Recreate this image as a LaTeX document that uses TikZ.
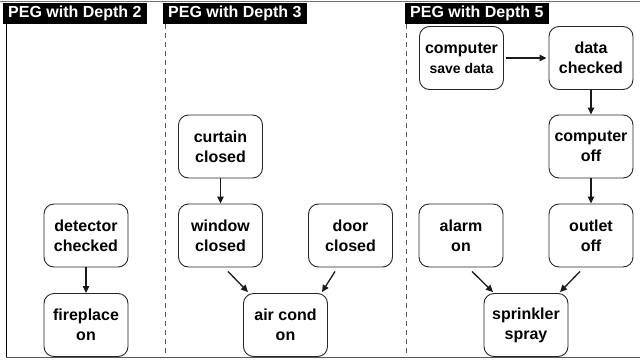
\documentclass[tikz,border=0pt]{standalone}
\usepackage{fontspec}
\setmainfont{Liberation Sans}
\usetikzlibrary{calc,arrows.meta}
\begin{document}
\begin{tikzpicture}[x=1pt,y=-1pt,
  state/.style={draw=black!85,line width=0.9pt,rectangle,rounded corners=10pt,
    minimum width=84pt,minimum height=63pt,inner sep=0pt,align=center,
    font=\bfseries\fontsize{16}{20}\selectfont},
  tag/.style={fill=black,text=white,anchor=north west,inner xsep=5pt,inner ysep=0pt,
    minimum height=21pt,font=\bfseries\fontsize{16}{18}\selectfont},
  arr/.style={-{Triangle[length=7pt,width=6.5pt]},line width=1.3pt,black!90},
  divider/.style={dashed,dash pattern=on 5pt off 4pt,line width=0.9pt,black!65}]
\useasboundingbox (0,0) rectangle (640,362);
% frame
\draw[line width=1pt,black!55] (0,1.5) -- (640,1.5);
\draw[line width=1pt,black] (6.5,24) -- (6.5,358);
\draw[line width=1.5pt,black!65] (6,357.5) -- (640,357.5);
\draw[divider] (165,24) -- (165,357);
\draw[divider] (406,24) -- (406,357);
% tags
\node[tag,minimum width=142pt] (t2) at (3,3) {PEG with Depth 2};
\node[tag,minimum width=142pt] (t3) at (163,3) {PEG with Depth 3};
\node[tag,minimum width=138pt] (t5) at (405,3) {PEG with Depth 5};
% depth 2
\node[state] (det) at (86,235.5) {detector\\checked};
\node[state] (fire) at (86,325) {fireplace\\on};
% depth 3
\node[state] (cur) at (220.5,146.5) {curtain\\closed};
\node[state] (win) at (220.5,235.5) {window\\closed};
\node[state] (door) at (350.5,235.5) {door\\closed};
\node[state] (air) at (285.5,325) {air cond\\on};
% depth 5
\node[state] (csd) at (461.5,58) {computer\\{\fontsize{14}{18}\selectfont save data}};
\node[state] (dc) at (591,58) {data\\checked};
\node[state] (coff) at (591,146.5) {computer\\off};
\node[state] (alarm) at (461,235.5) {alarm\\on};
\node[state] (out) at (591,235.5) {outlet\\off};
\node[state] (spr) at (526,325) {sprinkler\\spray};
% arrows
\draw[arr] (det) -- (fire);
\draw[arr] (cur) -- (win);
\draw[arr] ($(win.south)+(7.5,4)$) -- ($(air.north)+(-37.5,-1)$);
\draw[arr] ($(door.south)+(-15.5,4)$) -- ($(air.north)+(36.5,-1)$);
\draw[arr,shorten <=2pt,shorten >=2pt] (csd) -- (dc);
\draw[arr] (dc) -- (coff);
\draw[arr] (coff) -- (out);
\draw[arr] ($(alarm.south)+(11,4)$) -- ($(spr.north)+(-33,-1)$);
\draw[arr] ($(out.south)+(-11,4)$) -- ($(spr.north)+(34,-1)$);
\end{tikzpicture}
\end{document}
